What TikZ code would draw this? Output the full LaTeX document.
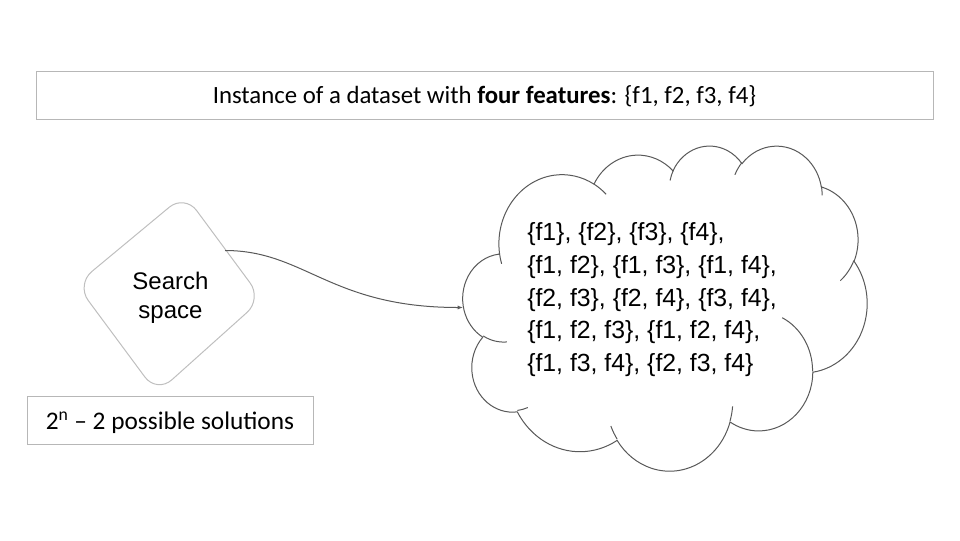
\documentclass[tikz,border=0pt]{standalone}
\usepackage{fontspec}
\setmainfont{Carlito}
\newfontfamily\arialf{Liberation Sans}
\usetikzlibrary{arrows.meta}
\definecolor{boxgrey}{HTML}{B7B7B7}
\definecolor{diagrey}{HTML}{BFBFBF}
\definecolor{cloudgrey}{HTML}{595959}
% OOXML-style arc: visual angles -> parametric start angle and sweep
\newcommand\cldarc[5]{%
  \pgfmathsetmacro\cldtmpa{atan2((#2)*sin(#4),(#3)*cos(#4))}%
  \pgfmathsetmacro\cldtmpb{atan2((#2)*sin((#4)+(#5)),(#3)*cos((#4)+(#5)))}%
  \pgfmathsetmacro\cldtmpc{mod((\cldtmpb)-(\cldtmpa)+720,360)}%
  \expandafter\xdef\csname cldts#1\endcsname{\cldtmpa}%
  \expandafter\xdef\csname cldtd#1\endcsname{\cldtmpc}%
}
\tikzset{
  boxstyle/.style={draw=boxgrey, line width=0.75pt, inner sep=0pt, minimum height=36pt},
  cloudline/.style={draw=cloudgrey, line width=0.75pt},
  diastyle/.style={draw=diagrey, line width=0.75pt, rounded corners=15pt},
  conn/.style={draw=cloudgrey, line width=0.75pt, -{Latex[length=4pt,width=3pt]}},
}
\begin{document}
\begin{tikzpicture}[x=0.75pt, y=-0.75pt]
\useasboundingbox (0,0) rectangle (960,540);
% arcs of the cloud outline
\cldarc{A}{67.53}{91.90}{-190.48748}{123.78053}
\cldarc{B}{53.33}{72.67}{-144.10238}{89.94523}
\cldarc{C}{43.65}{59.45}{-145.80792}{99.72302}
\cldarc{D}{48.57}{65.95}{-130.98607}{117.24173}
\cldarc{E}{53.33}{72.73}{-78.70888}{109.02692}
\cldarc{F}{67.75}{92.20}{-46.26725}{130.26900}
\cldarc{G}{57.85}{78.67}{0.62502}{114.03333}
\cldarc{H}{67.52}{92.15}{22.45160}{115.17255}
\cldarc{I}{77.20}{105.43}{66.24263}{75.71102}
\cldarc{J}{43.60}{59.18}{-274.94208}{146.73557}
\cldarc{K}{43.45}{59.45}{-246.82850}{152.51885}
% fold lines
\cldarc{Fa}{43.45}{59.45}{86.74200}{26.42950}
\cldarc{Fb}{43.60}{59.18}{73.61047}{11.44747}
\cldarc{Fc}{67.52}{92.15}{137.62415}{14.08110}
\cldarc{Fd}{67.52}{92.15}{6.45327}{15.99835}
\cldarc{Fe}{57.85}{78.67}{-70.29235}{70.91737}
\cldarc{Ff}{53.33}{72.73}{30.31803}{27.75150}
\cldarc{Fg}{48.57}{65.95}{-13.74433}{14.85890}
\cldarc{Fh}{48.57}{65.95}{-149.18145}{18.19537}
\cldarc{Fi}{43.65}{59.45}{-163.49427}{17.68635}
\cldarc{Fj}{67.53}{91.90}{-66.70695}{12.31935}
\cldarc{Fk}{67.53}{91.90}{157.65435}{11.85817}

% title box
\node[boxstyle, minimum width=672.75pt] (title) at (484.5,95)
  {\raisebox{-6.2pt}[0pt][0pt]{\fontsize{18.6}{22}\selectfont Instance of a dataset with \textbf{four features}: \{f1, f2, f3, f4\}}};

% solutions box
\node[boxstyle, minimum width=214.5pt] (sol) at (170,420)
  {\raisebox{-7pt}[0pt][0pt]{\fontsize{19}{22}\selectfont 2\textsuperscript{n} -- 2 possible solutions}};

% search space shape
\draw[diastyle] (184.7,194.4) -- (262,299) -- (156.9,393.2) -- (76.3,284.4) -- cycle;
\node[align=center, inner sep=0pt, font=\arialf\fontsize{18}{22}\selectfont] (dia) at (170.5,297.7) {Search\\space};
\coordinate (dstart) at (225,250.5);

% cloud
\begin{scope}[shift={(463,145)}, xscale=0.935185, yscale=0.752315]
\draw[cloudline, fill=white] (39.00,143.70)
  arc[start angle=\cldtsA, delta angle=\cldtdA, x radius=67.53, y radius=91.90]
  arc[start angle=\cldtsB, delta angle=\cldtdB, x radius=53.33, y radius=72.67]
  arc[start angle=\cldtsC, delta angle=\cldtdC, x radius=43.65, y radius=59.45]
  arc[start angle=\cldtsD, delta angle=\cldtdD, x radius=48.57, y radius=65.95]
  arc[start angle=\cldtsE, delta angle=\cldtdE, x radius=53.33, y radius=72.73]
  arc[start angle=\cldtsF, delta angle=\cldtdF, x radius=67.75, y radius=92.20]
  arc[start angle=\cldtsG, delta angle=\cldtdG, x radius=57.85, y radius=78.67]
  arc[start angle=\cldtsH, delta angle=\cldtdH, x radius=67.52, y radius=92.15]
  arc[start angle=\cldtsI, delta angle=\cldtdI, x radius=77.20, y radius=105.43]
  arc[start angle=\cldtsJ, delta angle=\cldtdJ, x radius=43.60, y radius=59.18]
  arc[start angle=\cldtsK, delta angle=\cldtdK, x radius=43.45, y radius=59.45]
  -- cycle;
\draw[cloudline] (46.93,261.77) arc[start angle=\cldtsFa, delta angle=\cldtdFa, x radius=43.45, y radius=59.45];
\draw[cloudline] (69.28,348.99) arc[start angle=\cldtsFb, delta angle=\cldtdFb, x radius=43.60, y radius=59.18];
\draw[cloudline] (164.78,390.90) arc[start angle=\cldtsFc, delta angle=\cldtdFc, x radius=67.52, y radius=92.15];
\draw[cloudline] (288.27,347.51) arc[start angle=\cldtsFd, delta angle=\cldtdFd, x radius=67.52, y radius=92.15];
\draw[cloudline] (341.29,229.54) arc[start angle=\cldtsFe, delta angle=\cldtdFe, x radius=57.85, y radius=78.67];
\draw[cloudline] (417.98,153.54) arc[start angle=\cldtsFf, delta angle=\cldtdFf, x radius=53.33, y radius=72.73];
\draw[cloudline] (383.24,54.26) arc[start angle=\cldtsFg, delta angle=\cldtdFg, x radius=48.57, y radius=65.95];
\draw[cloudline] (290.78,39.52) arc[start angle=\cldtsFh, delta angle=\cldtdFh, x radius=48.57, y radius=65.95];
\draw[cloudline] (221.41,47.20) arc[start angle=\cldtsFi, delta angle=\cldtdFi, x radius=43.65, y radius=59.45];
\draw[cloudline] (140.00,51.92) arc[start angle=\cldtsFj, delta angle=\cldtdFj, x radius=67.53, y radius=91.90];
\draw[cloudline] (41.27,157.89) arc[start angle=\cldtsFk, delta angle=\cldtdFk, x radius=67.53, y radius=91.90];
\end{scope}
\coordinate (cloudL) at (463,307.5);

\node[anchor=north west, align=left, inner sep=0pt, font=\arialf\fontsize{18.6}{24.5}\selectfont] (subsets) at (527,222.5)
  {\{f1\}, \{f2\}, \{f3\}, \{f4\},\\
   \{f1, f2\}, \{f1, f3\}, \{f1, f4\},\\
   \{f2, f3\}, \{f2, f4\}, \{f3, f4\},\\
   \{f1, f2, f3\}, \{f1, f2, f4\},\\
   \{f1, f3, f4\}, \{f2, f3, f4\}};

% connector
\draw[conn] (dstart) .. controls +(80,0) and +(-133,0) .. (cloudL);
\end{tikzpicture}
\end{document}
